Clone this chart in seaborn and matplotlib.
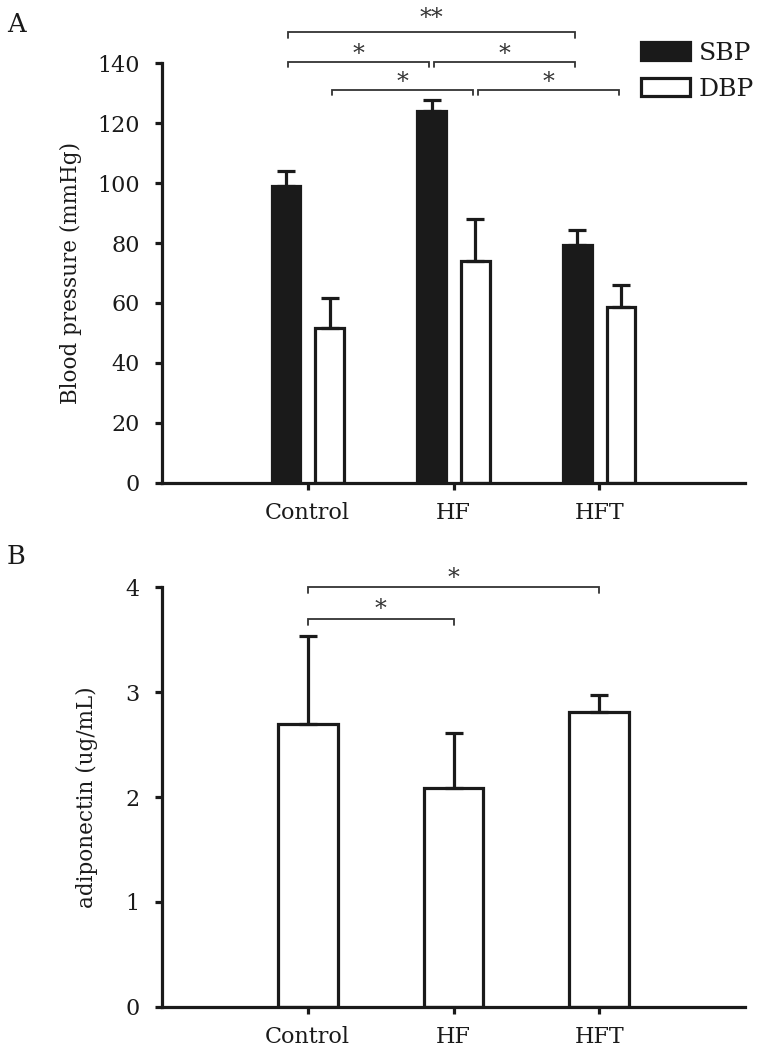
import numpy as np
import pandas as pd
import matplotlib
matplotlib.use("Agg")
import matplotlib.pyplot as plt
import seaborn as sns

# ---------------- data ----------------
groups = ["Control", "HF", "HFT"]
measures = ["SBP", "DBP"]
sbp_mean = [99.0, 124.0, 79.5]
sbp_err = [5.0, 3.7, 5.0]
dbp_mean = [51.5, 74.0, 58.7]
dbp_err = [10.0, 14.0, 7.3]
bp_yticks = [0, 20, 40, 60, 80, 100, 120, 140]

adipo_mean = [2.70, 2.09, 2.81]
adipo_err = [0.84, 0.52, 0.16]
adipo_yticks = [0, 1, 2, 3, 4]

# significance brackets: (measure, group1, group2, bracket height, label)
sig_A = [
    ("SBP", "Control", "HFT", 150.3, "**"),
    ("SBP", "Control", "HF", 140.5, "*"),
    ("SBP", "HF", "HFT", 140.5, "*"),
    ("DBP", "Control", "HF", 131.1, "*"),
    ("DBP", "HF", "HFT", 131.1, "*"),
]
sig_B = [
    ("Control", "HFT", 4.0, "*"),
    ("Control", "HF", 3.70, "*"),
]

# ---------------- style ----------------
sns.set_theme(style="ticks")
INK = "#1a1a1a"
plt.rcParams["font.family"] = ["DejaVu Serif"]
plt.rcParams["text.color"] = INK
plt.rcParams["axes.labelcolor"] = INK
plt.rcParams["xtick.color"] = INK
plt.rcParams["ytick.color"] = INK

FS = 16
LW = 2.3

fig = plt.figure(figsize=(7.68, 10.58), dpi=100)
W, H = 768, 1058
axA = fig.add_axes([162 / W, 1 - 482.7 / H, (745 - 162) / W, (482.7 - 63.3) / H])
axB = fig.add_axes([162 / W, 1 - 1006.7 / H, (745 - 162) / W, (1006.7 - 587.3) / H])


def style_axes(ax):
    sns.despine(ax=ax)
    for s in ["left", "bottom"]:
        ax.spines[s].set_linewidth(LW)
        ax.spines[s].set_color(INK)
    ax.tick_params(axis="y", length=5, width=LW, pad=11, labelsize=FS)
    ax.tick_params(axis="x", length=5, width=LW, pad=9, labelsize=FS)
    ax.set_xlabel("")


def add_errorbars(ax, container, errs):
    xs = [b.get_x() + b.get_width() / 2 for b in container]
    ys = [b.get_height() for b in container]
    ax.errorbar(xs, ys, yerr=[np.zeros(len(errs)), errs], fmt="none",
                ecolor=INK, elinewidth=LW, capsize=6.5, capthick=LW, zorder=5)


def bracket(ax, x1, x2, y, tip, text, text_off):
    ax.plot([x1, x1, x2, x2], [y - tip, y, y, y - tip], color="#333333",
            lw=1.3, clip_on=False, solid_joinstyle="miter")
    ax.annotate(text, xy=((x1 + x2) / 2, y), xytext=(0, text_off),
                textcoords="offset points", ha="center", va="baseline",
                fontsize=17, annotation_clip=False, color="#333333")


# ---------------- Panel A ----------------
dfA = pd.DataFrame({
    "group": groups * 2,
    "measure": [measures[0]] * 3 + [measures[1]] * 3,
    "value": sbp_mean + dbp_mean,
})
sns.barplot(data=dfA, x="group", y="value", hue="measure", order=groups,
            hue_order=measures, palette={"SBP": INK, "DBP": "white"},
            edgecolor=INK, linewidth=LW, width=0.6, gap=0.35, saturation=1,
            errorbar=None, ax=axA)
add_errorbars(axA, axA.containers[0], sbp_err)
add_errorbars(axA, axA.containers[1], dbp_err)
axA.set_xlim(-1, 3)
axA.set_ylim(0, 140)
axA.set_yticks(bp_yticks)
axA.set_ylabel("Blood pressure (mmHg)", fontsize=15.5, labelpad=11)
style_axes(axA)

handles, labels = axA.get_legend_handles_labels()
axA.get_legend().remove()
fig.legend(handles, labels, loc="upper left", bbox_to_anchor=(641 / W, 1 - 42 / H),
           frameon=False, fontsize=18, handlelength=1.95, handleheight=0.75,
           handletextpad=0.35, labelspacing=0.5, borderpad=0, borderaxespad=0)

centers = {}
for m, cont in zip(measures, axA.containers):
    for g, b in zip(groups, cont):
        centers[(m, g)] = b.get_x() + b.get_width() / 2
shrink = 0.015
for m, g1, g2, y, txt in sig_A:
    off = 5.5 if txt == "**" else 0.8
    bracket(axA, centers[(m, g1)] + shrink, centers[(m, g2)] - shrink, y, 1.7, txt, off)

# ---------------- Panel B ----------------
sns.barplot(x=groups, y=adipo_mean, order=groups, color="white", edgecolor=INK,
            linewidth=LW, width=0.41, saturation=1, errorbar=None, ax=axB)
add_errorbars(axB, axB.containers[0], adipo_err)
axB.set_xlim(-1, 3)
axB.set_ylim(0, 4)
axB.set_yticks(adipo_yticks)
axB.set_ylabel("adiponectin (ug/mL)", fontsize=15.5, labelpad=20)
style_axes(axB)

centB = {g: b.get_x() + b.get_width() / 2 for g, b in zip(groups, axB.containers[0])}
for g1, g2, y, txt in sig_B:
    bracket(axB, centB[g1], centB[g2], y, 0.057, txt, 2.0)

# panel letters
fig.text(7 / W, 1 - 32 / H, "A", fontsize=18.5, ha="left", va="baseline")
fig.text(7 / W, 1 - 564 / H, "B", fontsize=18.5, ha="left", va="baseline")

fig.savefig("out.png", dpi=100)
